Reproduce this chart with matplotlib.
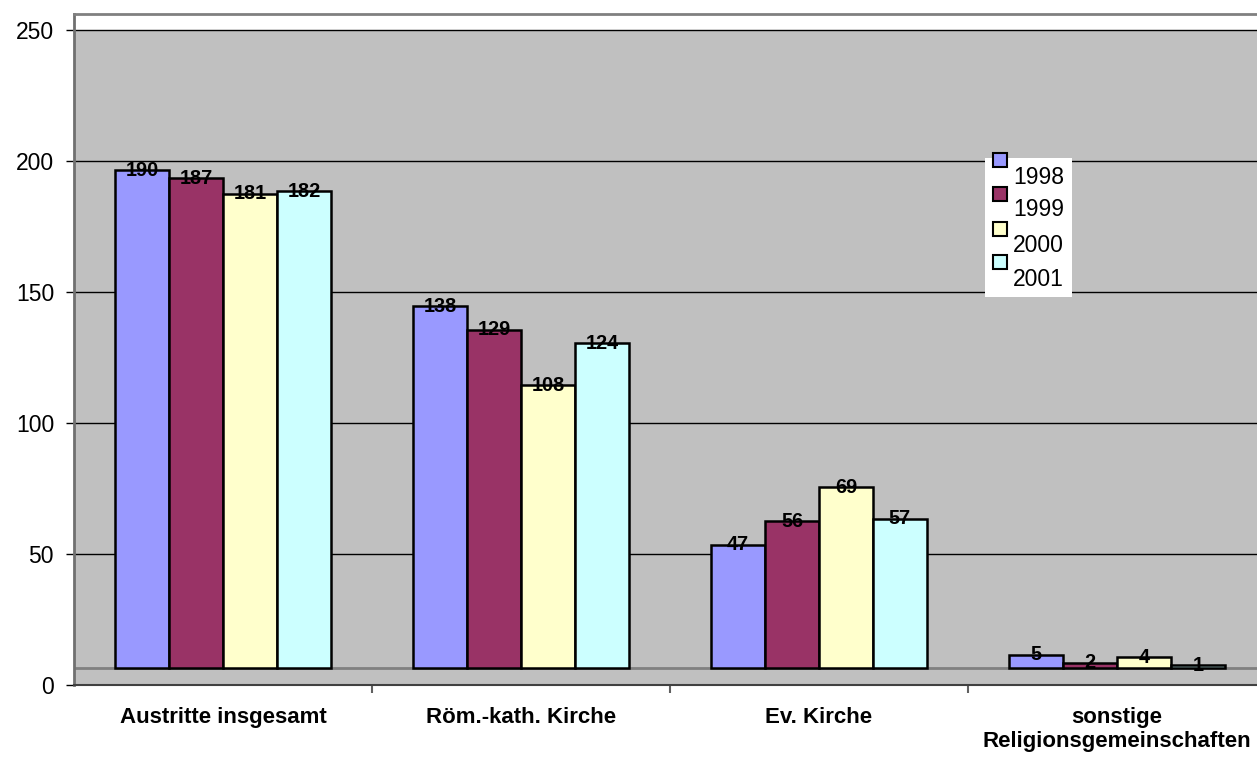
import numpy as np
import matplotlib.pyplot as plt
from matplotlib.patches import Rectangle

plt.rcParams['font.family'] = ['Liberation Sans', 'DejaVu Sans']

categories = ['Austritte insgesamt', 'Röm.-kath. Kirche', 'Ev. Kirche',
              'sonstige\nReligionsgemeinschaften']
years = ['1998', '1999', '2000', '2001']
v1998 = [190, 138, 47, 5]
v1999 = [187, 129, 56, 2]
v2000 = [181, 108, 69, 4]
v2001 = [182, 124, 57, 1]
series = [v1998, v1999, v2000, v2001]
colors = ['#9999FF', '#993366', '#FFFFCC', '#CCFFFF']
yticks = [0, 50, 100, 150, 200, 250]

W, H = 1257, 758
fig = plt.figure(figsize=(W / 100, H / 100), dpi=100)
ax = fig.add_axes([74 / W, (H - 685) / H, 1192 / W, (685 - 14) / H])
ax.set_facecolor('white')

floor = 6.5  # the 3D floor lifts the bars a little
ax.set_ylim(0, 256.1)
ax.set_xlim(-0.5, 3.5)

# wall and floor
ax.axhspan(0, 250, facecolor='#C0C0C0', edgecolor='none', zorder=0)
ax.axhline(floor, color='#808080', lw=2, zorder=1)
for t in yticks[1:]:
    ax.axhline(t, color='black', lw=1, zorder=1)

x = np.arange(len(categories))
bw = 0.181
for j, vals in enumerate(series):
    xs = x + (j - 1.5) * bw
    ax.bar(xs, vals, width=bw, bottom=floor, color=colors[j], edgecolor='black',
           linewidth=1.8, zorder=3)
    for xi, v in zip(xs, vals):
        ax.text(xi, v + floor, str(v), ha='center', va='center', fontsize=14.3,
                fontweight='bold', zorder=5)

# axes styling
ax.set_yticks(yticks)
ax.set_yticklabels([str(t) for t in yticks], fontsize=16.5)
ax.tick_params(axis='y', direction='out', length=6, width=1, pad=8.4, color='black')
ax.set_xticks(x)
ax.set_xticklabels(categories, fontsize=16, fontweight='bold', linespacing=1.2)
ax.set_xticks([0.5, 1.5, 2.5], minor=True)
ax.tick_params(axis='x', which='major', length=0, pad=16)
ax.tick_params(axis='x', which='minor', direction='out', length=6, width=1.5,
               color='#606060')
ax.spines['right'].set_visible(False)
ax.spines['top'].set_color('#808080')
ax.spines['top'].set_linewidth(2)
ax.spines['left'].set_color('#707070')
ax.spines['left'].set_linewidth(2)
ax.spines['bottom'].set_color('#404040')
ax.spines['bottom'].set_linewidth(1.5)

# legend in Excel style: white box, markers above the year text
ft = fig.transFigure
fig.patches.append(Rectangle((985 / W, 1 - 297 / H), 87 / W, 139 / H,
                             transform=ft, facecolor='white', edgecolor='none',
                             zorder=4))
mark_top = [153, 187, 222, 255]
text_mid = [177, 210, 246, 280]
for j in range(len(years)):
    fig.patches.append(Rectangle((993 / W, 1 - (mark_top[j] + 14) / H), 14 / W, 14 / H,
                                 transform=ft, facecolor=colors[j],
                                 edgecolor='black', linewidth=1.5, zorder=5))
    fig.text(1013 / W, 1 - text_mid[j] / H, years[j], fontsize=16.5,
             ha='left', va='center', zorder=6)

fig.savefig('out.png', dpi=100)
